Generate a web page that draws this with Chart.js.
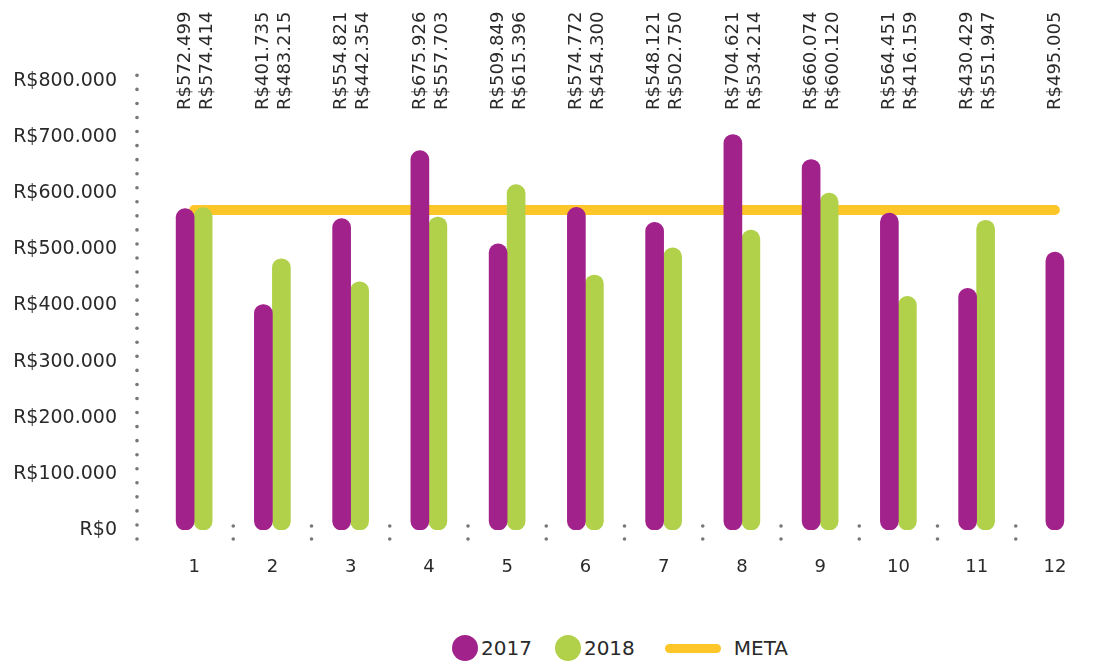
<!DOCTYPE html>
<html>
<head>
<meta charset="utf-8">
<script src="https://cdn.jsdelivr.net/npm/chart.js@4"></script>
<style>
    body { margin: 0; background: #fff; font-family: "DejaVu Sans", sans-serif; }
    #wrap { width: 1097px; height: 600px; position: relative; }
    #legend { height: 64px; box-sizing: border-box; padding: 32px 0 0 452px; display: flex; align-items: center; color: #2a2a2a; font-size: 20px; }
    #legend > div { height: 32px; display: flex; align-items: center; }
    .item { display: flex; align-items: center; }
    .dot { width: 26px; height: 26px; border-radius: 50%; margin-right: 3px; }
    .bar { width: 56px; height: 9px; border-radius: 5px; margin-right: 13px; }
</style>
</head>
<body>
<div id="wrap"><canvas id="chart"></canvas></div>
<div id="legend"></div>
<script>
// Chart data
const months = ['1', '2', '3', '4', '5', '6', '7', '8', '9', '10', '11', '12'];
const sales2017 = [572499, 401735, 554821, 675926, 509849, 574772, 548121, 704621, 660074, 564451, 430429, 495005];
const sales2018 = [574414, 483215, 442354, 557703, 615396, 454300, 502750, 534214, 600120, 416159, 551947, null];
const meta = [570000, 570000, 570000, 570000, 570000, 570000, 570000, 570000, 570000, 570000, 570000, 570000];
const yTicks = [0, 100000, 200000, 300000, 400000, 500000, 600000, 700000, 800000];

const PURPLE = '#A2228C';
const GREEN = '#B1D14A';
const YELLOW = '#FEC629';
const TEXT = '#2a2a2a';

// format 572499 -> R$572.499
function brl(v) {
    return 'R$' + String(Math.round(v)).replace(/\B(?=(\d{3})+(?!\d))/g, '.');
}

// dotted axis line + small dotted separators between months
const dotsPlugin = {
    id: 'dots',
    beforeDatasetsDraw(chart) {
        const { ctx, chartArea, scales } = chart;
        ctx.save();
        ctx.fillStyle = '#777';
        const dot = (x, y) => { ctx.beginPath(); ctx.arc(x, y, 1.8, 0, Math.PI * 2); ctx.fill(); };
        const ax = chartArea.left - 18;
        for (let y = chartArea.bottom + 9; y >= chartArea.top - 7; y -= 14.05) dot(ax, y);
        const xs = scales.x;
        for (let i = 0; i < months.length - 1; i++) {
            const x = (xs.getPixelForValue(i) + xs.getPixelForValue(i + 1)) / 2;
            dot(x, chartArea.bottom - 4);
            dot(x, chartArea.bottom + 9);
        }
        ctx.restore();
    }
};

// rotated value labels at the top
const topLabels = {
    id: 'topLabels',
    afterDatasetsDraw(chart) {
        const ctx = chart.ctx;
        ctx.save();
        ctx.fillStyle = TEXT;
        ctx.font = '18px "DejaVu Sans"';
        ctx.textAlign = 'left';
        ctx.textBaseline = 'middle';
        [0, 1].forEach(di => {
            const meta = chart.getDatasetMeta(di);
            const data = chart.data.datasets[di].data;
            meta.data.forEach((el, i) => {
                if (data[i] == null) return;
                ctx.save();
                ctx.translate(el.x + (di === 1 ? 4 : 0), 110);
                ctx.rotate(-Math.PI / 2);
                ctx.fillText(brl(data[i]), 0, 0);
                ctx.restore();
            });
        });
        ctx.restore();
    }
};

new Chart(document.getElementById('chart'), {
    data: {
        labels: months,
        datasets: [
            {
                type: 'bar', label: '2017', data: sales2017, backgroundColor: PURPLE,
                barThickness: 18, borderRadius: 9, borderSkipped: false, skipNull: true, order: 1
            },
            {
                type: 'bar', label: '2018', data: sales2018, backgroundColor: GREEN,
                barThickness: 18, borderRadius: 9, borderSkipped: false, skipNull: true, order: 1
            },
            {
                type: 'line', label: 'META', data: meta, borderColor: YELLOW, borderWidth: 10,
                borderCapStyle: 'round', pointRadius: 0, order: 2
            }
        ]
    },
    options: {
        responsive: true,
        maintainAspectRatio: false,
        animation: false,
        layout: { padding: { top: 81, right: 3, left: 8, bottom: 0 } },
        plugins: { legend: { display: false }, tooltip: { enabled: false } },
        scales: {
            x: {
                grid: { display: false, drawTicks: false },
                border: { display: false },
                ticks: { color: TEXT, font: { family: 'DejaVu Sans', size: 18 }, padding: 27 },
                afterFit(scale) { scale.height = 70; }
            },
            y: {
                min: 0, max: 800000,
                grid: { display: false, drawTicks: false },
                border: { display: false },
                afterBuildTicks(scale) { scale.ticks = yTicks.map(v => ({ value: v })); },
                ticks: { color: TEXT, font: { family: 'DejaVu Sans', size: 19 }, padding: 38, callback: v => brl(v) },
                afterFit(scale) { scale.width = 147; }
            }
        }
    },
    plugins: [dotsPlugin, topLabels]
});

// legend
const legendItems = [
    { text: '2017', cls: 'dot', color: PURPLE, gap: 23 },
    { text: '2018', cls: 'dot', color: GREEN, gap: 30 },
    { text: 'META', cls: 'bar', color: YELLOW, gap: 0 }
];
document.getElementById('legend').innerHTML = legendItems.map(it =>
    '<div class="item" style="margin-right:' + it.gap + 'px"><span class="' + it.cls + '" style="background:' + it.color + '"></span>' + it.text + '</div>'
).join('');
</script>
</body>
</html>
